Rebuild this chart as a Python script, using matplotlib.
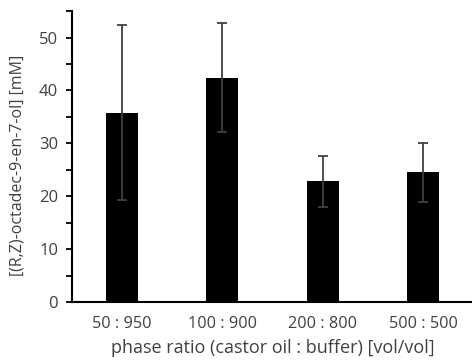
import numpy as np
import matplotlib.pyplot as plt

categories = ["50 : 950", "100 : 900", "200 : 800", "500 : 500"]
values = [35.8, 42.4, 22.8, 24.5]
errors = [16.6, 10.3, 4.9, 5.5]

plt.rcParams['font.family'] = ['Open Sans', 'DejaVu Sans']
txt = "#404040"

fig = plt.figure(figsize=(4.72, 3.6), dpi=100)
ax = fig.add_axes([0.1525, 0.161, 0.85, 0.808])

x = np.arange(len(categories))
ax.bar(x, values, width=0.32, color="black")
ax.errorbar(x, values, yerr=errors, fmt="none", ecolor="#404040",
            elinewidth=1.3, capsize=3.5, capthick=1.3)

ax.set_xlim(-0.5, 3.5)
ax.set_ylim(0, 55)
ax.set_yticks(np.arange(0, 51, 10))
ax.set_yticks(np.arange(5, 56, 10), minor=True)
ax.set_xticks(x)
ax.set_xticklabels(categories)
ax.tick_params(axis="x", length=0, pad=10, labelsize=11.7, colors=txt)
ax.tick_params(axis="y", which="both", direction="out", length=4, width=1.3,
               labelsize=12, colors=txt, pad=6)
ax.tick_params(axis="y", which="both", color="black")

for s in ["top", "right"]:
    ax.spines[s].set_visible(False)
for s in ["left", "bottom"]:
    ax.spines[s].set_linewidth(1.5)

ax.set_ylabel("[(R,Z)-octadec-9-en-7-ol] [mM]", fontsize=11.5, color=txt)
ax.yaxis.set_label_coords(-0.115, 0.47)
ax.set_xlabel("phase ratio (castor oil : buffer) [vol/vol]", fontsize=13, color=txt, labelpad=5)

fig.savefig("out.png", dpi=100)
